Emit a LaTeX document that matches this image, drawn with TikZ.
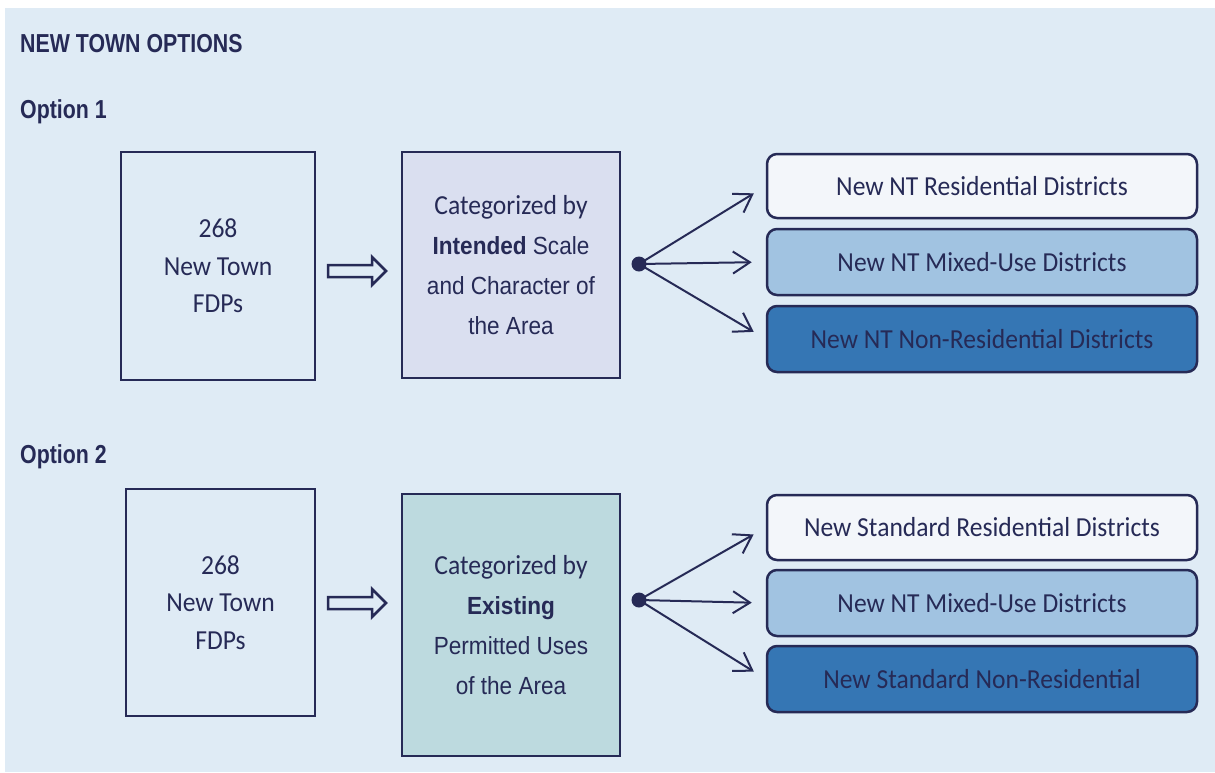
\documentclass[tikz,border=0pt]{standalone}
\usepackage{fontspec}
\setmainfont{Carlito}[FakeStretch=0.93]
\newfontfamily\headfont{Liberation Sans}[FakeStretch=0.82]
\newfontfamily\condfont{Liberation Sans}[FakeStretch=0.91]
\usetikzlibrary{arrows.meta}

\definecolor{navy}{HTML}{262A56}
\definecolor{paper}{HTML}{DFEBF5}
\definecolor{lavender}{HTML}{DADFF0}
\definecolor{seafoam}{HTML}{BDDADF}
\definecolor{paleblue}{HTML}{F3F6FA}
\definecolor{midblue}{HTML}{A1C3E1}
\definecolor{deepblue}{HTML}{3576B4}

% one line of the condensed text in the middle boxes
\newcommand{\catline}[1]{{\condfont\fontsize{24.8}{40}\selectfont #1}}

\tikzset{
    heading/.style={anchor=base west, inner sep=0pt, text=navy,
        font=\headfont\bfseries\fontsize{26}{30}\selectfont},
    fdpbox/.style={draw=navy, line width=2.5pt, inner sep=0pt, align=center,
        text=navy, font=\fontsize{27.5}{37.5}\selectfont},
    catbox/.style={fdpbox, minimum width=218pt, font=\fontsize{27.5}{40}\selectfont},
    district/.style={draw=navy, line width=2.5pt, rounded corners=10pt, inner sep=0pt,
        minimum width=430pt, minimum height=64pt, text=navy,
        font=\fontsize{27.5}{33}\selectfont},
    hub/.style={circle, fill=navy, inner sep=0pt, minimum size=15pt},
    link/.style={draw=navy, line width=2pt, shorten >=14pt,
        -{Straight Barb[length=17pt, width=22pt]}},
    hollow/.style={draw=navy, line width=2.5pt, line join=miter}
}

\begin{document}
\begin{tikzpicture}[x=1pt, y=-1pt]
    \useasboundingbox (0,0) rectangle (1215,772);
    \fill[paper] (5,8) rectangle (1215,772);

    \node[heading] (title) at (20,52) {NEW TOWN OPTIONS};

    % option 1
    \node[heading] (opt1) at (20,118) {Option 1};
    \node[fdpbox, minimum width=194pt, minimum height=228pt] (o1src) at (218,266)
        {268\\New Town\\FDPs};
    \node[catbox, fill=lavender, minimum height=226pt] (o1cat) at (511,265)
        {Categorized by\\
         \catline{{\bfseries Intended} Scale}\\
         \catline{and Character of}\\
         \catline{the Area}};
    \node[district, fill=paleblue] (o1res) at (982,186) {New NT Residential Districts};
    \node[district, fill=midblue, minimum height=66pt] (o1mix) at (982,262) {New NT Mixed-Use Districts};
    \node[district, fill=deepblue, minimum height=66pt] (o1non) at (982,339) {New NT Non-Residential Districts};
    \node[hub] (o1hub) at (639,264) {};
    \coordinate (o1arr) at (328,271);
    \draw[hollow] (o1arr) ++(0,-6) -- ++(44,0) -- ++(0,-8) -- ++(14,14)
        -- ++(-14,14) -- ++(0,-8) -- ++(-44,0) -- cycle;
    \foreach \d in {o1res,o1mix,o1non} {
        \draw[link] (o1hub.center) -- (\d.west);
    }

    % option 2
    \node[heading] (opt2) at (20,463) {Option 2};
    \node[fdpbox, minimum width=189pt, minimum height=227pt] (o2src) at (220.5,602.5)
        {268\\New Town\\FDPs};
    \node[catbox, fill=seafoam, minimum height=262pt] (o2cat) at (511,625)
        {Categorized by\\
         \catline{\bfseries Existing}\\
         \catline{Permitted Uses}\\
         \catline{of the Area}};
    \node[district, fill=paleblue, minimum height=65pt] (o2res) at (982,527.5) {New Standard Residential Districts};
    \node[district, fill=midblue, minimum height=66pt] (o2mix) at (982,603) {New NT Mixed-Use Districts};
    \node[district, fill=deepblue, minimum height=66pt] (o2non) at (982,679) {New Standard Non-Residential};
    \node[hub] (o2hub) at (639,600) {};
    \coordinate (o2arr) at (328,603);
    \draw[hollow] (o2arr) ++(0,-6) -- ++(44,0) -- ++(0,-8) -- ++(14,14)
        -- ++(-14,14) -- ++(0,-8) -- ++(-44,0) -- cycle;
    \foreach \d in {o2res,o2mix,o2non} {
        \draw[link] (o2hub.center) -- (\d.west);
    }
\end{tikzpicture}
\end{document}
